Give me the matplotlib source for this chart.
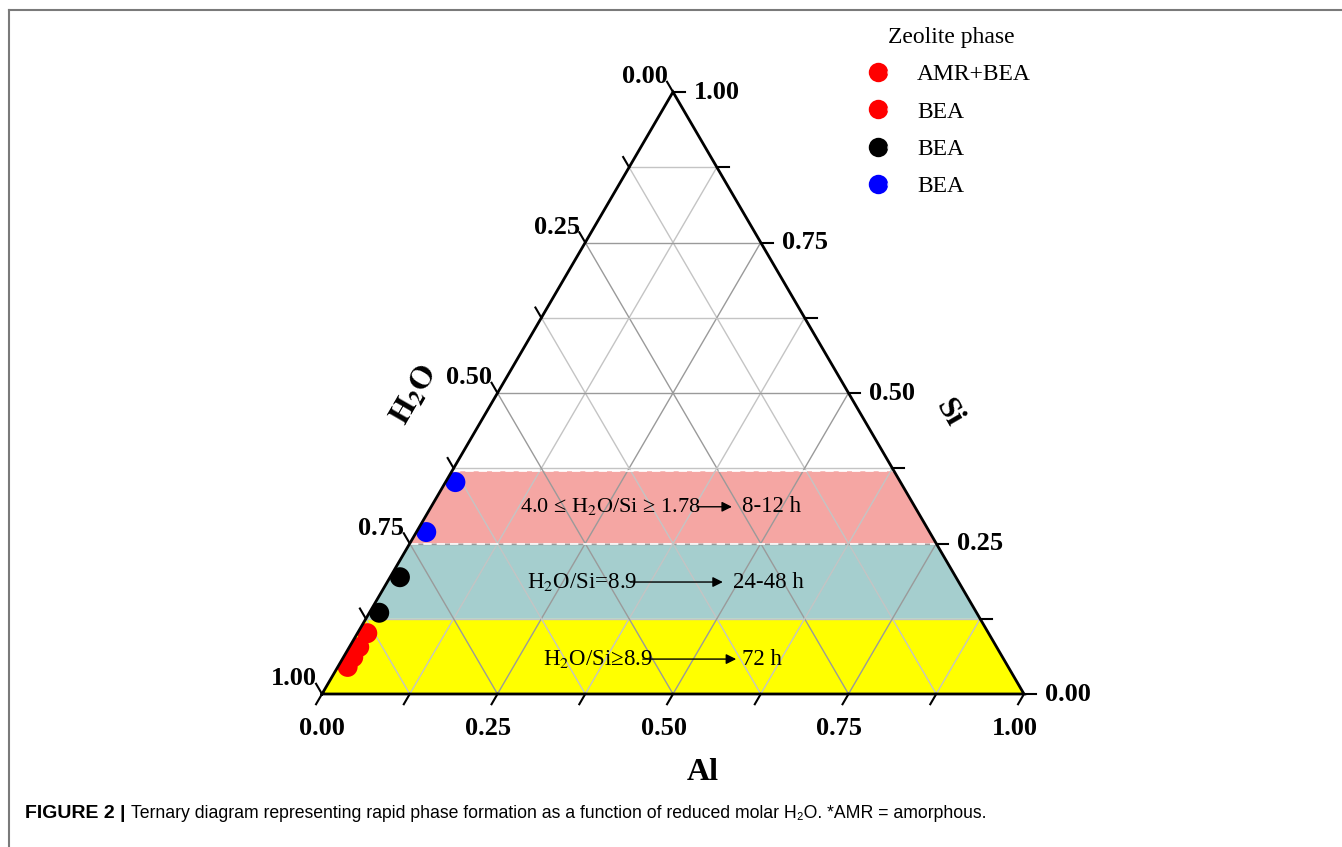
import matplotlib
matplotlib.use("Agg")
import matplotlib.pyplot as plt
from matplotlib.patches import Polygon
from matplotlib.lines import Line2D
from matplotlib.legend_handler import HandlerTuple

plt.rcParams['font.family'] = ['Liberation Serif', 'DejaVu Serif']
plt.rcParams['mathtext.fontset'] = 'stix'

# compositions (Al, Si, H2O)
al_amr = [0.014, 0.014]
si_amr = [0.045, 0.061]
h2o_amr = [0.941, 0.925]

al_red = [0.014, 0.014]
si_red = [0.078, 0.101]
h2o_red = [0.908, 0.885]

al_blk = [0.014, 0.014]
si_blk = [0.135, 0.194]
h2o_blk = [0.851, 0.792]

al_blu = [0.014, 0.014]
si_blu = [0.269, 0.352]
h2o_blu = [0.717, 0.634]

series_labels = ['AMR+BEA', 'BEA', 'BEA', 'BEA']
series_colors = ['#FF0000', '#FF0000', '#000000', '#0000FF']

# Si-level bands
band_lo = [0.0, 0.125, 0.25]
band_hi = [0.125, 0.25, 0.37]
band_colors = ['#FFFF00', '#A5CECE', '#F5A6A3']

ticks = [0.0, 0.125, 0.25, 0.375, 0.5, 0.625, 0.75, 0.875, 1.0]
tick_labels = ['0.00', '', '0.25', '', '0.50', '', '0.75', '', '1.00']


def tern(al, si, h2o=None):
    if h2o is None:
        h2o = 1 - al - si
    s = al + si + h2o
    return (al + si / 2) / s, si / s


fig = plt.figure(figsize=(13.42, 8.47), dpi=100)
W, H = 1342, 847
ax = fig.add_axes([322 / W, (H - 694) / H, 702 / W, 602 / H])
ax.set_xlim(0, 1)
ax.set_ylim(0, 1)
ax.axis('off')

# frame of the figure panel
fig.add_artist(Line2D([9 / W, 9 / W], [0, 1 - 10 / H], color='#7a7a7a', lw=1.5))
fig.add_artist(Line2D([9 / W, 1], [1 - 10 / H, 1 - 10 / H], color='#7a7a7a', lw=1.5))

tri = Polygon([(0, 0), (1, 0), (0.5, 1)], closed=True, fc='none', ec='none')
ax.add_patch(tri)

# bands
for lo, hi, c in zip(band_lo, band_hi, band_colors):
    ax.add_patch(Polygon([(lo / 2, lo), (1 - lo / 2, lo), (1 - hi / 2, hi), (hi / 2, hi)],
                         closed=True, fc=c, ec='none', zorder=1))

# grid
for v in ticks[1:-1]:
    c = '#9a9a9a' if v in (0.25, 0.5, 0.75) else '#c4c4c4'
    ax.plot(*zip(tern(0, v), tern(1 - v, v)), color=c, lw=1, zorder=2)
    ax.plot(*zip(tern(v, 0), tern(v, 1 - v)), color=c, lw=1, zorder=2)
    ax.plot(*zip(tern(1 - v, 0), tern(0, 1 - v)), color=c, lw=1, zorder=2)

# dashed band borders
for v in [0.0, 0.25, 0.37]:
    ax.plot(*zip(tern(0, v), tern(1 - v, v)), color='white', lw=1.2, ls=(0, (5, 3)), zorder=3)

# points
groups = [(al_amr, si_amr, h2o_amr), (al_red, si_red, h2o_red),
          (al_blk, si_blk, h2o_blk), (al_blu, si_blu, h2o_blu)]
for (a, s, w), col in zip(groups, series_colors):
    xy = [tern(ai, si, wi) for ai, si, wi in zip(a, s, w)]
    pts = ax.scatter([p[0] for p in xy], [p[1] for p in xy], s=207, c=col,
                     edgecolors='none', zorder=4)
    pts.set_clip_path(tri)

# triangle edges
ax.plot([0, 1, 0.5, 0], [0, 0, 1, 0], color='black', lw=2, zorder=5, clip_on=False,
        solid_joinstyle='miter')

# ticks and labels
t = 0.017
bold = dict(fontsize=19, fontweight='bold', zorder=6)
for v, lab in zip(ticks, tick_labels):
    p0 = tern(v, 0)
    ax.plot([p0[0], p0[0] - t / 2], [0, -t], color='black', lw=1.5, clip_on=False)
    if lab:
        dx = 0 if v == 0 else -6.5
        ax.annotate(lab, p0, xytext=(dx, -25), textcoords='offset points',
                    ha='center', va='center', **bold)
    p1 = tern(1 - v, v)
    ax.plot([p1[0], p1[0] + t], [v, v], color='black', lw=1.5, clip_on=False)
    if lab:
        ax.annotate(lab, p1, xytext=(15, 0), textcoords='offset points',
                    ha='left', va='center', **bold)
    p2 = tern(0, 1 - v)
    ax.plot([p2[0], p2[0] - t / 2], [p2[1], p2[1] + t], color='black', lw=1.5, clip_on=False)
    if lab:
        ax.annotate(lab, p2, xytext=(-4, 11), textcoords='offset points',
                    ha='right', va='center', **bold)

# axis titles
ax.text(0.543, -0.131, 'Al', fontsize=23, fontweight='bold', ha='center', va='center')
ax.text(0.132, 0.497, r'$\mathbf{H_2O}$', fontsize=23, rotation=60, ha='center', va='center')
ax.text(0.892, 0.467, 'Si', fontsize=23, fontweight='bold', rotation=-60,
        ha='center', va='center')

# band annotations
band_fs = 16.5
arrow = dict(arrowstyle='-|>', color='black', lw=1, mutation_scale=15, shrinkA=0, shrinkB=0)
ax.text(0.282, 0.311, r'4.0 ≤ H$_2$O/Si ≥ 1.78', fontsize=16, ha='left', va='center', zorder=6)
ax.annotate('', xy=(0.584, 0.311), xytext=(0.534, 0.311), arrowprops=arrow, zorder=6)
ax.text(0.598, 0.311, '8-12 h', fontsize=band_fs, ha='left', va='center', zorder=6)

ax.text(0.292, 0.186, r'H$_2$O/Si=8.9', fontsize=band_fs, ha='left', va='center', zorder=6)
ax.annotate('', xy=(0.571, 0.186), xytext=(0.439, 0.186), arrowprops=arrow, zorder=6)
ax.text(0.585, 0.186, '24-48 h', fontsize=band_fs, ha='left', va='center', zorder=6)

ax.text(0.315, 0.058, r'H$_2$O/Si≥8.9', fontsize=band_fs, ha='left', va='center', zorder=6)
ax.annotate('', xy=(0.590, 0.058), xytext=(0.457, 0.058), arrowprops=arrow, zorder=6)
ax.text(0.598, 0.058, '72 h', fontsize=band_fs, ha='left', va='center', zorder=6)

# legend: glossy balls = colour disc + soft highlight
handles = []
for col in series_colors:
    ball = Line2D([], [], ls='none', marker='o', ms=14, mfc=col, mec='none')
    shine = Line2D([], [], ls='none', marker='o', ms=5, mfc='white', mec='none', alpha=0.6)
    handles.append((ball, shine))
fig.legend(handles, series_labels, title='Zeolite phase',
           handler_map={tuple: HandlerTuple(ndivide=None)},
           loc='upper left', bbox_to_anchor=(872 / W, 1 - 27 / H),
           frameon=False, fontsize=17, title_fontsize=17,
           handlelength=1.0, handletextpad=0.9, labelspacing=0.67,
           borderpad=0, borderaxespad=0)

# caption
cap_font = ['Liberation Sans', 'DejaVu Sans']
fig.text(25 / W, 1 - 813 / H, 'FIGURE 2 |', fontsize=14, fontweight='bold',
         family=cap_font, va='center')
fig.text(131 / W, 1 - 813 / H,
         'Ternary diagram representing rapid phase formation as a function of reduced molar H₂O. *AMR = amorphous.',
         fontsize=12.7, family=cap_font, va='center')

fig.savefig('out.png', dpi=100)
